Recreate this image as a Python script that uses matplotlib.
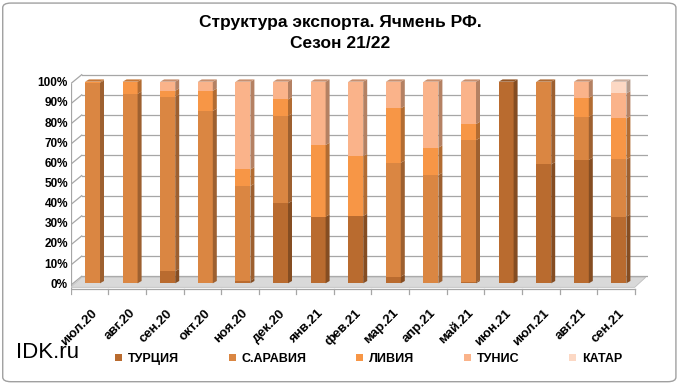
import numpy as np
import matplotlib.pyplot as plt
from matplotlib.patches import Polygon, Patch, FancyBboxPatch
from matplotlib.transforms import ScaledTranslation
from matplotlib.colors import to_rgb

plt.rcParams['font.family'] = ['Liberation Sans', 'DejaVu Sans']

# данные (доли, %)
months = ['июл.20', 'авг.20', 'сен.20', 'окт.20', 'ноя.20', 'дек.20', 'янв.21', 'фев.21',
          'мар.21', 'апр.21', 'май.21', 'июн.21', 'июл.21', 'авг.21', 'сен.21']
turkey = [0, 0, 6, 0, 1.3, 39.7, 33, 33.4, 3.3, 0, 0.5, 100, 59, 61.2, 33]
saudi = [99.5, 94, 86.6, 85.5, 47, 43.3, 0, 0, 56.5, 53.7, 70.5, 0, 41, 21.4, 28.5]
libya = [0.5, 6, 2.9, 10, 8.2, 8.2, 35.6, 29.7, 27, 13.6, 8, 0, 0, 9.4, 20.3]
tunis = [0, 0, 4.5, 4.5, 43.5, 8.8, 31.4, 36.9, 13.2, 32.7, 21, 0, 0, 8, 12.4]
qatar = [0, 0, 0, 0, 0, 0, 0, 0, 0, 0, 0, 0, 0, 0, 5.8]

series = [('ТУРЦИЯ', turkey, '#B96B2F'),
          ('С.АРАВИЯ', saudi, '#DA8642'),
          ('ЛИВИЯ', libya, '#F79646'),
          ('ТУНИС', tunis, '#FAB38A'),
          ('КАТАР', qatar, '#FCD8C4')]

W, H = 680, 384
fig = plt.figure(figsize=(6.8, 3.84), dpi=100)

# пиксели -> данные
PX_X = 37.6   # px на одну категорию
PX_Y = 2.016  # px на 1%
left_px, right_px, top_py, bot_py = 70.7, 648, 72, 296
ax = fig.add_axes([left_px / W, 1 - bot_py / H, (right_px - left_px) / W, (bot_py - top_py) / H])
ax.set_xlim(-0.5, -0.5 + (right_px - left_px) / PX_X)
ax.set_ylim((283.3 - bot_py) / PX_Y, (283.3 - top_py) / PX_Y)
for s in ax.spines.values():
    s.set_visible(False)

n = len(months)
x = np.arange(n)
wall_dx, wall_dy = 11 / PX_X, 9 / PX_Y
front_off = -2 / PX_Y
grid_col = '#A6A6A6'

# сетка на задней стенке
for v in range(0, 101, 10):
    yb = v + front_off + wall_dy
    ax.plot([-0.5 + wall_dx, ax.get_xlim()[1]], [yb, yb], color=grid_col, lw=0.9, zorder=1)
    ax.plot([-0.5, -0.5 + wall_dx], [v + front_off, yb], color=grid_col, lw=0.9, zorder=1)
ax.plot([-0.5, -0.5], [front_off - 2, 100 + front_off], color=grid_col, lw=0.9, zorder=1)

# пол
f0, f1 = -2.0, 2.0
ax.add_patch(Polygon([(-0.5, f0), (n - 0.5, f0), (n - 0.5 + wall_dx, f1 + 1), (-0.5 + wall_dx, f1 + 1)],
                     closed=True, facecolor='#D9D9D9', edgecolor='#BFBFBF', lw=0.6, zorder=2))
ax.plot([-0.5, n - 0.5], [f0 - 0.8, f0 - 0.8], color=grid_col, lw=0.9, zorder=2)
for b in np.arange(-0.5, n, 1.0):
    ax.plot([b, b], [f0 - 0.8, f0 - 3.5], color=grid_col, lw=0.9, zorder=2)

# столбцы с псевдо-3D
bw = 15 / PX_X
shift = 3 / PX_X
dx, dy = 4 / PX_X, 2.3 / PX_Y
centers = x + shift
bottom = np.zeros(n)
for name, vals, col in series:
    vals = np.array(vals, dtype=float)
    ax.bar(centers, vals, bw, bottom=bottom, color=col, edgecolor='none', zorder=3)
    dark = tuple(c * 0.72 for c in to_rgb(col))
    for i in range(n):
        if vals[i] <= 0:
            continue
        xr = centers[i] + bw / 2
        y0, y1 = bottom[i], bottom[i] + vals[i]
        ax.add_patch(Polygon([(xr, y0), (xr + dx, y0 + dy), (xr + dx, y1 + dy), (xr, y1)],
                             closed=True, facecolor=dark, edgecolor='none', zorder=3))
    bottom = bottom + vals

# верхние грани
for i in range(n):
    xl = centers[i] - bw / 2
    xr = centers[i] + bw / 2
    top = bottom[i]
    topcol = None
    for name, vals, col in series:
        if vals[i] > 0:
            topcol = col
    tcol = tuple(c * 0.8 for c in to_rgb(topcol))
    ax.add_patch(Polygon([(xl, top), (xl + dx, top + dy), (xr + dx, top + dy), (xr, top)],
                         closed=True, facecolor=tcol, edgecolor='none', zorder=4))

ax.set_yticks(range(0, 101, 10))
ax.set_yticklabels([f'{v}%' for v in range(0, 101, 10)], fontsize=8.5, fontweight='bold')
ax.tick_params(axis='y', length=0, pad=2)
ax.set_xticks(x)
ax.set_xticklabels(months, rotation=45, ha='right', va='top', rotation_mode='anchor',
                   fontsize=9.5, fontweight='bold')
ax.tick_params(axis='x', length=0, pad=8)
for lbl in ax.get_xticklabels():
    lbl.set_transform(lbl.get_transform() + ScaledTranslation(2 / 100, 0, fig.dpi_scale_trans))

fig.text(0.5, 1 - 22 / H, 'Структура экспорта. Ячмень РФ.', ha='center', va='center',
         fontsize=12.5, fontweight='bold')
fig.text(0.5, 1 - 43 / H, 'Сезон 21/22', ha='center', va='center',
         fontsize=12.5, fontweight='bold')

handles = [Patch(facecolor=c, edgecolor='none') for _, _, c in series]
fig.legend(handles, [s[0] for s in series], loc='center left', bbox_to_anchor=(104 / W, 1 - 359 / H),
           ncol=5, frameon=False, handlelength=0.55, handleheight=0.55,
           handletextpad=0.45, columnspacing=4.0, prop={'weight': 'bold', 'size': 9})

fig.text(16 / W, 1 - 352 / H, 'IDK.ru', fontsize=16, va='center', ha='left')

fig.patches.append(FancyBboxPatch((0.004, 0.006), 0.99, 0.986, boxstyle='round,pad=0,rounding_size=0.012',
                                  transform=fig.transFigure, facecolor='none', edgecolor='#A0A0A0', lw=1))

fig.savefig('out.png', dpi=100)
